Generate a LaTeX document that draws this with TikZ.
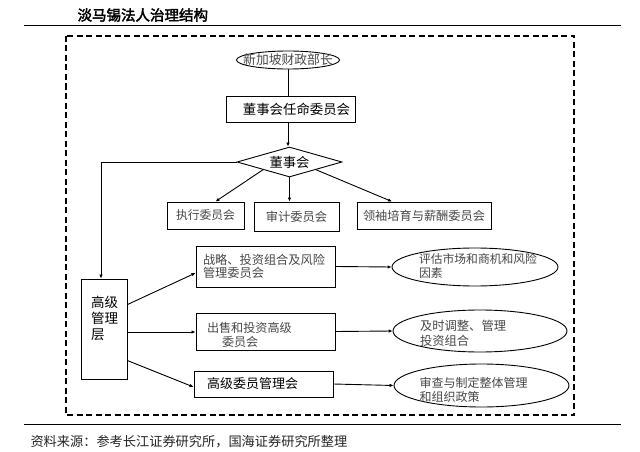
\documentclass[tikz,border=0pt]{standalone}
\usepackage{fontspec}
\newfontfamily\cjk{Noto Sans CJK SC}
\newfontfamily\cjkbold[FakeBold=2.5]{Noto Sans CJK SC}
\usetikzlibrary{shapes.geometric,arrows.meta,calc}
\newcommand{\fs}[2]{\fontsize{#1}{#2}\selectfont}
\begin{document}
\begin{tikzpicture}[x=1pt,y=-1pt,
  every node/.style={font=\cjk},
  boxnode/.style={draw,line width=0.9pt,inner sep=0pt},
  ellnode/.style={draw,ellipse,line width=0.9pt,inner sep=0pt},
  lighttext/.style={text=black!72},
  conn/.style={line width=0.9pt},
  arr/.style={conn,-{Latex[length=4pt,width=3.5pt]}}]
\useasboundingbox (0,0) rectangle (640,452);
\fill[white] (0,0) rectangle (640,452);
% title and rules
\node[anchor=west,font=\cjkbold\fs{14.5}{16}] (title) at (74,15) {淡马锡法人治理结构};
\draw[line width=1pt] (24,26) -- (621,26);
\draw[line width=1pt] (24,424) -- (621,424);
\node[anchor=west,font=\cjk\fs{13.2}{15},text=black!85] (source) at (27,442) {资料来源：参考长江证券研究所，国海证券研究所整理};
% dashed frame
\draw[line width=1.3pt,dash pattern=on 6pt off 3.5pt] (66,36) rectangle (574,415);
% top chain
\node[ellnode,minimum width=103,minimum height=18] (mof) at (288,60) {};
\node[lighttext,font=\cjk\fs{12.8}{14}] (moft) at (mof.center) {新加坡财政部长};
\node[boxnode,minimum width=129,minimum height=26,font=\cjk\fs{13.4}{15}] (appoint) at (290.5,109) {\hspace{12pt}董事会任命委员会};
\node[draw,diamond,line width=0.9pt,inner sep=0pt,aspect=3.5,minimum width=105,minimum height=30,font=\cjk\fs{13.3}{15}] (board) at (289.5,162) {董事会};
\node[boxnode,lighttext,minimum width=77,minimum height=27,font=\cjk\fs{11.8}{13}] (exec) at (205.5,215.5) {执行委员会};
\node[boxnode,lighttext,minimum width=85,minimum height=29,font=\cjk\fs{12.3}{13}] (audit) at (296.5,216.5) {审计委员会};
\node[boxnode,lighttext,minimum width=134,minimum height=27,font=\cjk\fs{12.2}{13}] (lead) at (424,215.5) {领袖培育与薪酬委员会};
% management
\node[boxnode,minimum width=46,minimum height=100] (mgmt) at (104,329) {};
\node[text width=32,align=left,inner sep=0pt,font=\cjk\fs{13.5}{16}] (mgmtt) at ($(mgmt.center)+(3,-11)$) {高级\\管理\\层};
\node[boxnode,lighttext,minimum width=139,minimum height=41,inner xsep=7pt,text width=125,align=left,font=\cjk\fs{12.2}{13}] (strat) at (265.5,266.5) {战略、投资组合及风险\\管理委员会};
\node[boxnode,minimum width=139,minimum height=37] (sale) at (265.5,331.5) {};
\node[lighttext,inner sep=0pt,text width=117,align=left,font=\cjk\fs{12.1}{14}] (salet) at ($(sale.center)+(0,3.5)$) {出售和投资高级\\\hspace{15pt}委员会};
\node[boxnode,minimum width=139,minimum height=26,inner xsep=13pt,text width=113,align=left,font=\cjk\fs{13}{15}] (senior) at (263.5,384) {高级委员管理会};
% ellipses
\node[ellnode,minimum width=166,minimum height=38] (e1) at (475,267) {};
\node[lighttext,text width=120,align=left,font=\cjk\fs{11.8}{14}] (e1t) at ($(e1.center)+(4,-1.5)$) {评估市场和商机和风险\\因素};
\node[ellnode,minimum width=174,minimum height=42] (e2) at (480,331) {};
\node[lighttext,text width=96,align=left,font=\cjk\fs{12.3}{15}] (e2t) at ($(e2.center)+(-12,2.5)$) {及时调整、管理\\投资组合};
\node[ellnode,minimum width=175,minimum height=43] (e3) at (481.5,385.5) {};
\node[lighttext,text width=114,align=left,font=\cjk\fs{12}{14}] (e3t) at ($(e3.center)+(-5,4.5)$) {审查与制定整体管理\\和组织政策};
% connectors
\draw[conn] (mof.south) -- (mof.south |- appoint.north);
\draw[arr] (mof.south |- appoint.south) -- (mof.south |- board.north);
\draw[arr] (board.west) -| ($(mgmt.north)+(-3,0)$);
\draw[arr] ($(board.west)!0.5!(board.south)$) -- ($(exec.north)+(10,0)$);
\draw[arr] (board.south) -- (board.south |- audit.north);
\draw[arr] ($(board.east)!0.5!(board.south)$) -- ($(lead.north)+(-32,0)$);
\draw[arr] ($(mgmt.north east)+(0,26)$) -- ($(strat.west)+(0,6.5)$);
\draw[arr] ($(mgmt.east)+(0,3)$) -- ($(sale.west)+(0,0.5)$);
\draw[arr] ($(mgmt.north east)+(0,82)$) -- ($(senior.west)+(0,3)$);
\draw[arr] (strat.east) -- (e1.west);
\draw[arr] (sale.east) -- (e2.west);
\draw[arr] (senior.east) -- (e3.west);
\end{tikzpicture}
\end{document}
